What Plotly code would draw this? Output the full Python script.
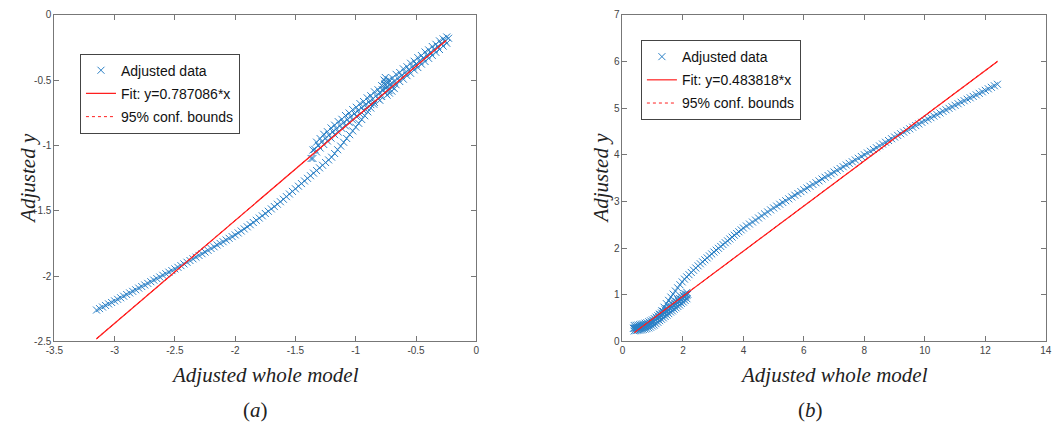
import plotly.graph_objects as go

# ---------------- data : panel (a) ----------------
A_LOWER_X = [-3.15, -3.10, -3.05, -3.00, -2.95, -2.90, -2.85, -2.80, -2.75, -2.70, -2.65, -2.60,
             -2.55, -2.50, -2.45, -2.40, -2.35, -2.30, -2.25, -2.20, -2.15, -2.10, -2.05, -2.00,
             -1.95, -1.90, -1.85, -1.80, -1.75, -1.70, -1.65, -1.60, -1.55, -1.50, -1.45, -1.40,
             -1.35, -1.30, -1.25, -1.20, -1.15, -1.10, -1.05, -1.00, -0.95, -0.90, -0.85]
A_LOWER_Y = [-2.260, -2.237, -2.213, -2.190, -2.166, -2.141, -2.117, -2.092, -2.068, -2.043, -2.019, -1.994,
             -1.970, -1.945, -1.920, -1.894, -1.868, -1.842, -1.816, -1.789, -1.762, -1.737, -1.711, -1.685,
             -1.655, -1.623, -1.590, -1.556, -1.521, -1.486, -1.450, -1.412, -1.372, -1.332, -1.292, -1.252,
             -1.212, -1.172, -1.131, -1.090, -1.033, -0.976, -0.918, -0.860, -0.802, -0.743, -0.685]
A_LOWER_MID_X = [-3.125, -3.075, -3.025, -2.975, -2.925, -2.875, -2.825, -2.775, -2.725, -2.675, -2.625, -2.575,
                 -2.525, -2.475, -2.425, -2.375, -2.325, -2.275, -2.225, -2.175, -2.125, -2.075, -2.025, -1.975,
                 -1.925, -1.875, -1.825, -1.775, -1.725, -1.675, -1.625, -1.575, -1.525, -1.475, -1.425, -1.375,
                 -1.325, -1.275, -1.225, -1.175, -1.125, -1.075, -1.025, -0.975, -0.925, -0.875]
A_LOWER_MID_Y = [-2.249, -2.225, -2.202, -2.178, -2.154, -2.129, -2.105, -2.080, -2.056, -2.031, -2.007, -1.982,
                 -1.958, -1.933, -1.907, -1.881, -1.855, -1.829, -1.803, -1.776, -1.750, -1.724, -1.698, -1.670,
                 -1.639, -1.607, -1.573, -1.539, -1.504, -1.468, -1.431, -1.392, -1.352, -1.312, -1.272, -1.232,
                 -1.192, -1.152, -1.111, -1.062, -1.005, -0.947, -0.889, -0.831, -0.773, -0.714]

A_UPPER_X = [-1.37, -1.34, -1.31, -1.28, -1.25, -1.22, -1.19, -1.16, -1.13, -1.10, -1.07, -1.04, -1.01,
             -0.98, -0.95, -0.92, -0.89, -0.86, -0.83, -0.80, -0.77, -0.74, -0.71, -0.68, -0.65, -0.62,
             -0.59, -0.56, -0.53, -0.50, -0.47, -0.44, -0.41, -0.38, -0.35, -0.32, -0.29, -0.26, -0.23]
A_UPPER_Y = [-1.100, -1.030, -1.000, -0.970, -0.945, -0.920, -0.895, -0.872, -0.848, -0.825, -0.802, -0.779, -0.756,
             -0.733, -0.711, -0.689, -0.667, -0.645, -0.620, -0.598, -0.575, -0.553, -0.530, -0.508, -0.488, -0.466,
             -0.443, -0.421, -0.399, -0.377, -0.355, -0.332, -0.310, -0.288, -0.265, -0.243, -0.221, -0.199, -0.180]

A_EDGE_X = [-1.355, -1.325, -1.295, -1.265, -1.235, -1.205, -1.175, -1.145, -1.115, -1.085, -1.055, -1.025,
            -0.995, -0.965, -0.935, -0.905, -0.875, -0.845, -0.815, -0.785, -0.755, -0.725, -0.695, -0.665,
            -0.635, -0.605, -0.575, -0.545, -0.515, -0.485, -0.455, -0.425, -0.395, -0.365, -0.335, -0.305,
            -0.275, -0.245]
A_EDGE_TOP_Y = [-1.035, -0.975, -0.948, -0.915, -0.895, -0.866, -0.845, -0.818, -0.800, -0.771, -0.752, -0.726,
                -0.708, -0.680, -0.664, -0.636, -0.620, -0.590, -0.574, -0.542, -0.530, -0.499, -0.484, -0.456,
                -0.442, -0.414, -0.398, -0.371, -0.356, -0.328, -0.312, -0.285, -0.269, -0.243, -0.226, -0.200,
                -0.185, -0.170]
A_EDGE_BOT_Y = [-1.100, -1.050, -1.020, -0.993, -0.966, -0.944, -0.918, -0.898, -0.870, -0.851, -0.823, -0.805,
                -0.778, -0.760, -0.733, -0.716, -0.688, -0.671, -0.643, -0.625, -0.598, -0.580, -0.553, -0.536,
                -0.511, -0.493, -0.466, -0.448, -0.422, -0.404, -0.378, -0.358, -0.334, -0.311, -0.288, -0.266,
                -0.240, -0.218]

A_SPREAD_X = [-0.755, -0.755, -0.760, -0.750, -0.780, -0.720, -0.700, -0.800, -0.790, -0.740, -0.680, -0.730, -0.765, -0.710]
A_SPREAD_Y = [-0.480, -0.510, -0.535, -0.560, -0.575, -0.600, -0.585, -0.655, -0.625, -0.615, -0.565, -0.520, -0.500, -0.545]

A_FIT_SLOPE = 0.787086
A_FIT_X = [-3.15, -0.25]
A_CONF_SLOPES = [0.7866, 0.7876]
A_XTICKS = [-3.5, -3, -2.5, -2, -1.5, -1, -0.5, 0]
A_XTICKTEXT = ["-3.5", "-3", "-2.5", "-2", "-1.5", "-1", "-0.5", "0"]
A_YTICKS = [-2.5, -2, -1.5, -1, -0.5, 0]
A_YTICKTEXT = ["-2.5", "-2", "-1.5", "-1", "-0.5", "0"]

# ---------------- data : panel (b) ----------------
B_CLUSTER_X = [0.36, 0.42, 0.48, 0.54, 0.60, 0.66, 0.72, 0.78, 0.84, 0.90, 0.96, 1.02, 1.08, 1.14, 1.20, 1.26,
               1.32, 1.38, 1.44, 1.50, 1.56, 1.62, 1.68, 1.74, 1.80, 1.86, 1.92, 1.98, 2.04, 2.10, 2.16]
B_CLUSTER_Y = [0.280, 0.285, 0.290, 0.295, 0.300, 0.310, 0.320, 0.335, 0.350, 0.370, 0.395, 0.420, 0.450, 0.480,
               0.510, 0.545, 0.575, 0.605, 0.635, 0.665, 0.695, 0.725, 0.760, 0.790, 0.820, 0.850, 0.885, 0.915,
               0.950, 0.980, 1.010]
B_EDGE_X = [0.39, 0.45, 0.51, 0.57, 0.63, 0.69, 0.75, 0.81, 0.87, 0.93, 0.99, 1.05, 1.11, 1.17, 1.23, 1.29,
            1.35, 1.41, 1.47, 1.53, 1.59, 1.65, 1.71, 1.77, 1.83, 1.89, 1.95, 2.01, 2.07, 2.13]
B_EDGE_MID_Y = [0.283, 0.288, 0.293, 0.298, 0.305, 0.315, 0.328, 0.343, 0.360, 0.383, 0.408, 0.435, 0.465, 0.495,
                0.528, 0.560, 0.590, 0.620, 0.650, 0.680, 0.710, 0.743, 0.775, 0.805, 0.835, 0.868, 0.900, 0.933,
                0.965, 0.995]
B_EDGE_TOP_Y = [0.340, 0.345, 0.350, 0.360, 0.370, 0.375, 0.390, 0.400, 0.420, 0.440, 0.460, 0.490, 0.520, 0.550,
                0.585, 0.610, 0.645, 0.675, 0.700, 0.735, 0.760, 0.795, 0.825, 0.860, 0.890, 0.920, 0.950, 0.985,
                1.020, 1.050]
B_EDGE_BOT_Y = [0.225, 0.230, 0.235, 0.240, 0.245, 0.255, 0.265, 0.275, 0.290, 0.305, 0.330, 0.350, 0.380, 0.410,
                0.445, 0.475, 0.505, 0.535, 0.565, 0.595, 0.630, 0.655, 0.690, 0.720, 0.750, 0.780, 0.815, 0.845,
                0.880, 0.915]
B_CURVE_X = [1.15, 1.30, 1.45, 1.60, 1.75, 1.90, 2.05, 2.20, 2.35, 2.50, 2.65, 2.80, 2.95, 3.10, 3.25, 3.40,
             3.55, 3.70, 3.85, 4.00, 4.20, 4.40, 4.60, 4.80, 5.00, 5.20, 5.40, 5.60, 5.80, 6.00, 6.20, 6.40,
             6.60, 6.80, 7.00, 7.20, 7.40, 7.60, 7.80, 8.00, 8.20, 8.40, 8.60, 8.80, 9.00, 9.20, 9.40, 9.60,
             9.80, 10.00, 10.20, 10.40, 10.60, 10.80, 11.00, 11.20, 11.40, 11.60, 11.80, 12.00, 12.20, 12.40]
B_CURVE_Y = [0.500, 0.655, 0.810, 0.950, 1.080, 1.215, 1.335, 1.430, 1.525, 1.620, 1.705, 1.790, 1.875, 1.955,
             2.035, 2.115, 2.195, 2.275, 2.350, 2.430, 2.515, 2.600, 2.690, 2.775, 2.860, 2.940, 3.015, 3.095,
             3.170, 3.250, 3.325, 3.400, 3.480, 3.555, 3.630, 3.705, 3.780, 3.850, 3.925, 4.000, 4.075, 4.150,
             4.230, 4.305, 4.380, 4.450, 4.520, 4.590, 4.660, 4.730, 4.795, 4.860, 4.930, 4.995, 5.060, 5.125,
             5.190, 5.250, 5.315, 5.380, 5.445, 5.510]
B_CURVE_MID_X = [1.225, 1.375, 1.525, 1.675, 1.825, 1.975, 2.125, 2.275, 2.425, 2.575, 2.725, 2.875, 3.025,
                 3.175, 3.325, 3.475, 3.625, 3.775, 3.925, 4.10, 4.30, 4.50, 4.70, 4.90, 5.10, 5.30, 5.50,
                 5.70, 5.90, 6.10, 6.30, 6.50, 6.70, 6.90, 7.10, 7.30, 7.50, 7.70, 7.90, 8.10, 8.30, 8.50,
                 8.70, 8.90, 9.10, 9.30, 9.50, 9.70, 9.90, 10.10, 10.30, 10.50, 10.70, 10.90, 11.10, 11.30,
                 11.50, 11.70, 11.90, 12.10, 12.30]
B_CURVE_MID_Y = [0.578, 0.733, 0.880, 1.015, 1.148, 1.275, 1.383, 1.478, 1.573, 1.663, 1.748, 1.833, 1.915,
                 1.995, 2.075, 2.155, 2.235, 2.313, 2.390, 2.473, 2.558, 2.645, 2.733, 2.818, 2.900, 2.978,
                 3.055, 3.133, 3.210, 3.288, 3.363, 3.440, 3.518, 3.593, 3.668, 3.743, 3.815, 3.888, 3.963,
                 4.038, 4.113, 4.190, 4.268, 4.343, 4.415, 4.485, 4.555, 4.625, 4.695, 4.763, 4.828, 4.895,
                 4.963, 5.028, 5.093, 5.158, 5.220, 5.283, 5.348, 5.413, 5.478]

B_FIT_SLOPE = 0.483818
B_FIT_X = [0.40, 12.40]
B_CONF_SLOPES = [0.4834, 0.4842]
B_XTICKS = [0, 2, 4, 6, 8, 10, 12, 14]
B_XTICKTEXT = ["0", "2", "4", "6", "8", "10", "12", "14"]
B_YTICKS = [0, 1, 2, 3, 4, 5, 6, 7]
B_YTICKTEXT = ["0", "1", "2", "3", "4", "5", "6", "7"]

# ---------------- styles ----------------
W, H = 1058, 432
BLUE = "#2a80c6"
RED = "#ff1f1f"
AXIS_COL = "#777777"
TICK_FONT = dict(family="Liberation Sans, Arial, sans-serif", size=10, color="#444444")
LEG_FONT = dict(family="Liberation Sans, Arial, sans-serif", size=14, color="#111111")
SERIF = "Liberation Serif, Times New Roman, serif"

marker = dict(symbol="x-thin", size=7, color=BLUE, line=dict(width=1, color=BLUE))

fig = go.Figure()


def add_panel(xs_list, ys_list, fit_slope, fit_x, conf_slopes, xa, ya, legend_name, fit_label):
    all_x, all_y = [], []
    for xs, ys in zip(xs_list, ys_list):
        all_x += list(xs)
        all_y += list(ys)
    fig.add_trace(go.Scatter(x=all_x, y=all_y, mode="markers", marker=marker,
                             name="Adjusted data", xaxis=xa, yaxis=ya, legend=legend_name,
                             legendgroup=legend_name + "1"))
    fig.add_trace(go.Scatter(x=fit_x, y=[fit_slope * v for v in fit_x], mode="lines",
                             line=dict(color=RED, width=1.2), name=fit_label,
                             xaxis=xa, yaxis=ya, legend=legend_name,
                             legendgroup=legend_name + "2"))
    for i, s in enumerate(conf_slopes):
        fig.add_trace(go.Scatter(x=fit_x, y=[s * v for v in fit_x], mode="lines",
                                 line=dict(color=RED, width=1, dash="dot"),
                                 name="95% conf. bounds", showlegend=(i == 0),
                                 xaxis=xa, yaxis=ya, legend=legend_name,
                                 legendgroup=legend_name + "3"))


add_panel([A_LOWER_X, A_LOWER_MID_X, A_UPPER_X, A_EDGE_X, A_EDGE_X, A_SPREAD_X],
          [A_LOWER_Y, A_LOWER_MID_Y, A_UPPER_Y, A_EDGE_TOP_Y, A_EDGE_BOT_Y, A_SPREAD_Y],
          A_FIT_SLOPE, A_FIT_X, A_CONF_SLOPES, "x", "y", "legend", "Fit: y=0.787086*x")
add_panel([B_CLUSTER_X, B_EDGE_X, B_EDGE_X, B_EDGE_X, B_CURVE_X, B_CURVE_MID_X],
          [B_CLUSTER_Y, B_EDGE_MID_Y, B_EDGE_TOP_Y, B_EDGE_BOT_Y, B_CURVE_Y, B_CURVE_MID_Y],
          B_FIT_SLOPE, B_FIT_X, B_CONF_SLOPES, "x2", "y2", "legend2", "Fit: y=0.483818*x")

axis_common = dict(showline=True, linecolor=AXIS_COL, linewidth=1, mirror="ticks",
                   ticks="inside", ticklen=5, tickcolor=AXIS_COL, tickwidth=1,
                   showgrid=False, zeroline=False, tickfont=TICK_FONT)

y_dom = [1 - 345 / H, 1 - 9 / H]
fig.update_layout(
    width=W, height=H, margin=dict(l=0, r=0, t=0, b=0),
    paper_bgcolor="white", plot_bgcolor="white",
    xaxis=dict(domain=[46 / W, 474 / W], range=[-3.5, 0], tickvals=A_XTICKS, ticktext=A_XTICKTEXT,
               anchor="y", **axis_common),
    yaxis=dict(domain=y_dom, range=[-2.5, 0], tickvals=A_YTICKS, ticktext=A_YTICKTEXT,
               anchor="x", **axis_common),
    xaxis2=dict(domain=[622.3 / W, 1051.7 / W], range=[0, 14], tickvals=B_XTICKS, ticktext=B_XTICKTEXT,
                anchor="y2", **axis_common),
    yaxis2=dict(domain=y_dom, range=[0, 7], tickvals=B_YTICKS, ticktext=B_YTICKTEXT,
                anchor="x2", **axis_common),
    legend=dict(x=72 / W, y=1 - 49 / H, xanchor="left", yanchor="top", bgcolor="white",
                bordercolor="#444444", borderwidth=1, font=LEG_FONT, tracegroupgap=2,
                traceorder="grouped"),
    legend2=dict(x=641 / W, y=1 - 35 / H, xanchor="left", yanchor="top", bgcolor="white",
                 bordercolor="#444444", borderwidth=1, font=LEG_FONT, tracegroupgap=2,
                 traceorder="grouped"),
)

ann_font = dict(family=SERIF, size=21, color="#222222")
annots = [
    dict(text="<i>Adjusted y</i>", x=19 / W, y=1 - 177 / H, textangle=-90),
    dict(text="<i>Adjusted y</i>", x=601 / W, y=1 - 177 / H, textangle=-90),
    dict(text="<i>Adjusted whole model</i>", x=260 / W, y=1 - 380 / H),
    dict(text="<i>Adjusted whole model</i>", x=837 / W, y=1 - 380 / H),
    dict(text="(<i>a</i>)", x=250 / W, y=1 - 416 / H),
    dict(text="(<i>b</i>)", x=813 / W, y=1 - 416 / H),
]
for a in annots:
    fig.add_annotation(xref="paper", yref="paper", xanchor="center", yanchor="middle",
                       showarrow=False, font=ann_font, **a)

fig.write_html("out.html")
